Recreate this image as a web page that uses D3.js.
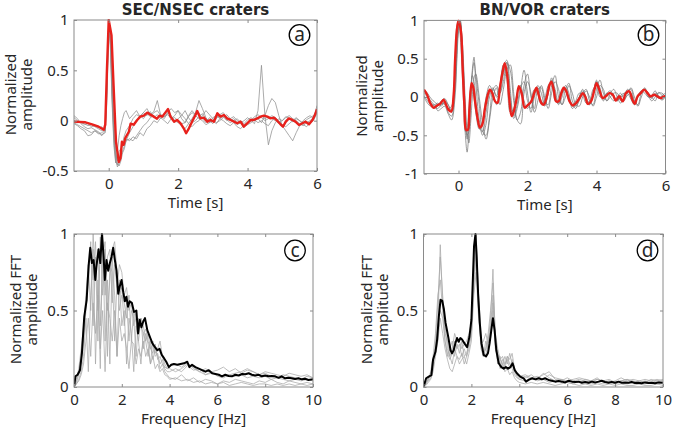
<!DOCTYPE html>
<html><head><meta charset="utf-8">
<script src="https://cdn.jsdelivr.net/npm/d3@7"></script>
<style>
body{margin:0;background:#fff}
svg{display:block}
text{font-family:"Noto Sans","Open Sans",sans-serif;fill:#262626}
</style>
</head><body>
<svg id="chart" width="675" height="433"></svg>
<script>
// ---------------- DATA ----------------
const titles = ["SEC/NSEC craters", "BN/VOR craters"];
const panelLetters = ["a", "b", "c", "d"];
const timeTicks = [0, 2, 4, 6];
const ampTicksA = [-0.5, 0, 0.5, 1];
const ampTicksB = [-1, -0.5, 0, 0.5, 1];
const freqTicks = [0, 2, 4, 6, 8, 10];
const fftTicks = [0, 0.5, 1];

// panel (a) mean trace (red)
const redAT = [-1,-0.67,-0.48,-0.29,-0.14,-0.1,-0.05,0,0.08,0.14,0.21,0.29,0.34,0.38,0.43,0.48,0.58,0.63,0.72,0.82,0.91,1.01,1.11,1.2,1.3,1.39,1.46,1.54,1.63,1.71,1.78,1.88,1.97,2.07,2.16,2.23,2.31,2.4,2.5,2.55,2.64,2.74,2.84,2.93,3.03,3.13,3.22,3.32,3.41,3.51,3.61,3.7,3.8,3.89,3.99,4.09,4.18,4.28,4.38,4.47,4.57,4.66,4.76,4.86,4.95,5.02,5.1,5.19,5.29,5.38,5.48,5.58,5.67,5.77,5.87,5.94,6.0];
const redAV = [-0.01,-0.016,-0.036,-0.06,-0.09,-0.04,0.52,1.0,0.85,0.35,-0.21,-0.41,-0.37,-0.21,-0.24,-0.17,-0.11,-0.03,-0.04,0.007,0.04,0.05,0.08,0.06,0.04,0.02,0.05,0.04,0.08,0.115,0.04,-0.01,0.007,-0.026,-0.076,-0.125,-0.076,-0.01,0.056,0.096,0.023,0.03,-0.01,0.007,-0.01,0.073,0.04,0.056,0.023,0.007,-0.01,-0.026,-0.01,-0.06,-0.026,0.007,0.007,0.023,0.04,0.05,0.04,0.023,0.03,-0.003,-0.036,-0.06,-0.01,0.023,0.007,-0.01,-0.043,-0.026,-0.01,-0.036,0.007,0.056,0.115];

// panel (b) mean trace (red)
const redBT = [-1,-0.91,-0.82,-0.72,-0.62,-0.53,-0.43,-0.37,-0.29,-0.21,-0.14,-0.1,-0.05,0,0.07,0.12,0.17,0.22,0.27,0.32,0.38,0.43,0.48,0.55,0.62,0.69,0.77,0.85,0.91,0.98,1.06,1.13,1.2,1.28,1.34,1.41,1.47,1.54,1.6,1.68,1.75,1.83,1.92,2.0,2.11,2.21,2.26,2.32,2.4,2.47,2.55,2.64,2.69,2.76,2.83,2.9,2.98,3.05,3.12,3.22,3.31,3.41,3.51,3.6,3.67,3.75,3.84,3.94,4.0,4.08,4.18,4.27,4.37,4.47,4.56,4.66,4.76,4.85,4.95,5.04,5.11,5.19,5.28,5.38,5.48,5.57,5.67,5.76,5.86,5.96,6.0];
const redBV = [0.096,0.03,-0.08,-0.14,-0.11,-0.09,-0.035,-0.09,-0.165,-0.19,0.03,0.47,0.86,1.0,0.86,0.38,-0.1,-0.43,-0.43,-0.14,0.18,0.12,-0.057,-0.27,-0.4,-0.36,-0.14,0.03,0.096,0.05,-0.057,-0.078,0.12,0.33,0.44,0.29,-0.013,-0.25,-0.19,-0.035,0.14,0.05,-0.14,-0.11,-0.057,0.074,0.12,0.03,-0.078,-0.1,-0.013,0.16,0.2,0.096,-0.057,-0.057,0.05,0.12,0.08,-0.057,-0.11,-0.078,-0.013,0.05,0.009,-0.09,-0.057,0.096,0.18,0.096,-0.013,0.009,0.05,0.03,-0.048,0.009,-0.057,0.05,0.074,-0.035,-0.09,0.009,0.05,0.096,0.05,0.009,0.03,0.009,-0.013,0.009,0.01];

// time grid of the individual (gray) traces, panels a and b
const tGray = [-1,-0.9,-0.8,-0.7,-0.6,-0.5,-0.4,-0.3,-0.2,-0.1,
  -0.05,0,0.05,0.1,0.15,0.2,0.25,0.3,0.35,0.4,0.45,0.5,
  0.6,0.7,0.8,0.9,1.0,1.1,1.2,1.3,1.4,1.5,
  1.6,1.7,1.8,1.9,2.0,2.1,2.2,2.3,2.4,2.5,
  2.6,2.7,2.8,2.9,3.0,3.1,3.2,3.3,3.4,3.5,
  3.6,3.7,3.8,3.9,4.0,4.1,4.2,4.3,4.4,4.5,
  4.6,4.7,4.8,4.9,5.0,5.1,5.2,5.3,5.4,5.5,
  5.6,5.7,5.8,5.9,6.0];

const grayA1 = [0.03,0,-0.02,-0.03,-0.05,-0.04,-0.06,-0.08,-0.1,-0.08,
  0.4,0.98,0.75,0.2,-0.2,-0.4,-0.44,-0.38,-0.3,-0.22,-0.15,-0.1,
  -0.05,0.02,0.06,0.04,0.08,0.05,0.09,0.03,0.06,0.02,
  0.07,0.1,0.05,0,-0.02,-0.05,-0.08,-0.03,0.02,0.08,
  0.2,0.12,0.03,-0.02,0,0.06,0.03,0.05,0.01,-0.02,
  0,-0.04,-0.02,-0.05,-0.02,0,0.02,0.03,0.05,0.02,
  0.04,0.02,0,-0.03,-0.06,-0.02,0.02,0,-0.02,-0.05,
  -0.03,-0.01,-0.03,0.02,0.1];
const grayA2 = [-0.02,-0.04,-0.06,-0.08,-0.1,-0.12,-0.1,-0.13,-0.12,-0.09,
  0.3,0.95,0.85,0.3,-0.1,-0.38,-0.46,-0.42,-0.35,-0.3,-0.25,-0.2,
  -0.18,-0.2,-0.15,-0.1,-0.05,-0.02,0.03,0.05,0.02,0.06,
  0.04,0.06,0.02,0.03,0,-0.03,-0.02,0.04,0.08,0.05,
  0.02,0,-0.04,-0.02,0.03,0.05,0.02,0,-0.03,-0.05,
  -0.02,-0.06,-0.08,-0.04,-0.02,0,-0.03,0.1,0.55,0.05,
  -0.24,-0.1,-0.02,0.02,0,0.03,0.05,0.02,0,-0.03,
  -0.05,-0.02,0,0.03,0.12];
const grayA3 = [0.05,0.02,-0.03,-0.06,-0.08,-0.07,-0.09,-0.11,-0.14,-0.12,
  0.2,0.9,0.95,0.45,0,-0.3,-0.43,-0.45,-0.4,-0.32,-0.28,-0.2,
  -0.12,-0.06,0,0.05,0.02,0.07,0.04,0.08,0.1,0.05,
  0.02,0.08,0.04,-0.02,0.02,0.05,0.1,0.03,-0.02,0,
  0.04,0.07,0.02,0,-0.03,0.02,0.06,0.08,0.03,0,
  0.02,-0.02,0,-0.03,0.01,0.03,0,0.02,-0.02,0.05,
  0.15,0.22,0.18,0.05,-0.05,-0.1,-0.15,-0.2,-0.12,-0.05,
  0,0.03,0.05,0.02,0.15];
const grayA4 = [-0.03,-0.05,-0.08,-0.1,-0.15,-0.14,-0.1,-0.12,-0.15,-0.1,
  0.35,1.0,0.8,0.25,-0.15,-0.35,-0.4,-0.3,-0.28,-0.25,-0.22,-0.18,
  -0.2,-0.16,-0.18,-0.12,-0.15,-0.08,-0.05,0,-0.02,0.03,
  0,-0.03,0.02,0.05,0.1,0.06,0.02,-0.03,-0.06,-0.02,
  0,0.05,0.1,0.06,0.02,-0.02,0,0.03,0.06,0.02,
  0.04,0,-0.03,-0.06,-0.04,-0.02,0.01,-0.02,0,-0.03,
  -0.05,0,0.03,0,-0.04,-0.06,-0.03,0,0.03,0,
  -0.04,-0.06,-0.02,0,0.08];
const grayA5 = [0,-0.02,-0.01,-0.04,-0.03,-0.06,-0.05,-0.07,-0.06,-0.1,
  0.45,0.97,0.7,0.15,-0.25,-0.42,-0.3,-0.15,-0.05,0.02,0.08,0.1,
  0.02,0.06,0.1,0.04,0.08,0.12,0.06,0.09,0.2,0.05,
  0.04,0.08,0.12,0.08,0.1,0.02,-0.02,0.05,0.1,0.06,
  0.08,0.02,-0.02,0.03,0,-0.03,0.02,0.04,0,0.02,
  -0.01,0.02,-0.02,0,0.03,0,0.04,0.06,0.03,0,
  0.02,0.05,0.03,-0.02,0,0.04,0.02,-0.01,0.02,0,
  -0.02,0.01,0.03,0.05,0.1];

const grayB1 = [0.05,0,-0.05,-0.1,-0.08,-0.12,-0.05,-0.1,-0.2,0.3,
  0.75,0.98,0.95,0.6,0.1,-0.5,-0.72,-0.45,0,0.35,0.52,0.2,
  -0.3,-0.5,-0.35,0,0.1,0.02,0.15,0.4,0.48,0.1,
  -0.28,-0.15,0.1,0.35,0.05,-0.2,0,0.15,0.05,-0.12,
  0.05,0.25,0.05,-0.1,0,0.15,0.05,-0.15,-0.1,0,
  0.08,0,-0.1,0.02,0.2,0.12,-0.03,0.05,0.08,0.02,
  -0.05,0,0.03,0.1,0,-0.1,0,0.05,0.1,0.05,
  -0.02,0.05,0.02,-0.03,0.02];
const grayB2 = [0.08,0.02,-0.08,-0.12,-0.15,-0.1,-0.08,-0.2,-0.25,0.2,
  0.6,0.9,1.0,0.75,0.3,-0.2,-0.5,-0.45,-0.1,0.3,0.45,0.3,
  -0.1,-0.45,-0.5,-0.25,0.1,0.15,0.05,0.2,0.45,0.35,
  -0.05,-0.3,-0.2,0.15,0.3,0,-0.15,0.1,0.12,-0.05,
  -0.1,0.15,0.28,0,-0.1,0.1,0.18,-0.05,-0.12,-0.05,
  0.05,0.1,-0.05,-0.1,0.1,0.22,0.05,-0.05,0.05,0.1,
  0,-0.08,0,0.08,0.1,-0.05,-0.1,0.05,0.12,0.02,
  -0.05,0,0.06,0.02,-0.02];
const grayB3 = [0.1,0.05,-0.02,-0.06,-0.1,-0.05,-0.02,-0.1,-0.18,0.1,
  0.55,0.92,1.0,0.7,0.2,-0.3,-0.55,-0.35,0.05,0.28,0.2,-0.05,
  -0.4,-0.45,-0.2,0.05,0.12,0,0.05,0.3,0.45,0,
  -0.25,-0.1,0.12,0.2,-0.05,-0.15,0.05,0.12,-0.05,-0.1,
  0.05,0.22,0.1,-0.08,0.05,0.12,0,-0.1,-0.15,0,
  0.1,-0.02,-0.1,0.05,0.22,0.05,-0.05,0.02,0.06,0,
  -0.05,0.02,0.05,0.05,-0.03,-0.1,0.02,0.08,0.05,0,
  0.02,0.08,0,-0.04,0];
const grayB4 = [0.02,-0.05,-0.1,-0.15,-0.12,-0.08,-0.1,-0.15,-0.12,0.5,
  0.92,1.0,0.8,0.4,-0.1,-0.45,-0.4,-0.15,0.1,0.15,0,-0.2,
  -0.42,-0.3,0,0.15,0.05,-0.1,0.15,0.42,0.25,-0.2,
  -0.15,0.05,0.15,-0.05,-0.15,-0.05,0.1,0.05,-0.1,-0.02,
  0.15,0.2,-0.05,-0.08,0.1,0.08,-0.05,-0.12,-0.05,0.05,
  0.02,-0.08,-0.05,0.1,0.15,0,0,0.05,0,-0.05,
  0,0.05,-0.02,0.02,0.05,-0.05,0,0.08,0.1,0,
  0,0.03,-0.02,0.02,0.05];
const grayB5 = [0,-0.08,-0.12,-0.1,-0.18,-0.15,-0.12,-0.22,-0.3,0,
  0.45,0.85,0.97,0.8,0.4,-0.1,-0.45,-0.6,-0.35,0,0.25,0.3,
  0,-0.35,-0.55,-0.3,0,0.12,-0.1,0.1,0.35,0.42,
  0.05,-0.3,-0.35,0.05,0.2,0.05,-0.2,-0.05,0.15,0,
  -0.15,0.05,0.2,0.1,-0.1,0,0.15,0.05,-0.1,-0.12,
  0,0.08,0,-0.12,0,0.15,0.1,-0.05,0,0.05,
  0.05,-0.05,-0.05,0.05,0.12,0,-0.12,0,0.1,0.05,
  0,-0.05,0.05,0.05,0];

// panel (c) mean spectrum (black)
const blkCF = [0,0.06,0.15,0.25,0.33,0.43,0.53,0.61,0.68,0.75,0.82,0.89,0.94,1.03,1.1,1.17,1.24,1.29,1.36,1.43,1.5,1.57,1.64,1.71,1.78,1.85,1.92,1.99,2.06,2.13,2.19,2.26,2.33,2.42,2.51,2.61,2.68,2.75,2.82,2.9,2.97,3.07,3.17,3.28,3.39,3.49,3.58,3.67,3.76,3.86,3.97,4.07,4.18,4.32,4.46,4.6,4.74,4.83,4.94,5.08,5.22,5.36,5.5,5.64,5.78,5.92,6.06,6.19,6.33,6.47,6.61,6.75,6.89,7.03,7.17,7.31,7.44,7.58,7.72,7.86,8.0,8.14,8.28,8.42,8.56,8.69,8.83,8.97,9.11,9.25,9.39,9.53,9.67,9.81,10];
const blkCV = [0,0.07,0.08,0.11,0.22,0.46,0.57,0.79,0.91,0.81,0.83,0.7,0.79,0.9,0.81,1.0,0.85,0.7,0.83,0.76,0.81,0.85,0.91,0.83,0.76,0.61,0.66,0.7,0.62,0.56,0.59,0.525,0.56,0.55,0.49,0.5,0.35,0.44,0.39,0.43,0.45,0.37,0.33,0.285,0.26,0.24,0.25,0.21,0.19,0.165,0.13,0.145,0.15,0.145,0.15,0.155,0.165,0.13,0.145,0.13,0.12,0.11,0.1,0.11,0.09,0.085,0.08,0.07,0.08,0.072,0.07,0.08,0.075,0.085,0.083,0.09,0.08,0.075,0.08,0.07,0.075,0.07,0.072,0.07,0.06,0.07,0.057,0.06,0.057,0.052,0.057,0.05,0.054,0.046,0.05];

// panel (d) mean spectrum (black)
const blkDF = [0,0.11,0.22,0.33,0.4,0.5,0.57,0.64,0.71,0.78,0.85,0.92,1.03,1.13,1.19,1.26,1.33,1.4,1.47,1.54,1.61,1.71,1.82,1.92,2.0,2.06,2.11,2.17,2.22,2.28,2.35,2.42,2.51,2.61,2.69,2.76,2.83,2.9,2.97,3.04,3.14,3.25,3.35,3.44,3.53,3.63,3.72,3.81,3.9,4.04,4.18,4.28,4.39,4.53,4.67,4.81,4.94,5.08,5.22,5.36,5.5,5.64,5.78,5.92,6.06,6.19,6.33,6.47,6.61,6.75,6.89,7.03,7.17,7.31,7.44,7.58,7.72,7.86,8.0,8.14,8.28,8.42,8.56,8.69,8.83,8.97,9.11,9.25,9.39,9.53,9.67,9.81,10];
const blkDV = [0,0.057,0.068,0.078,0.18,0.23,0.31,0.46,0.57,0.565,0.51,0.42,0.33,0.24,0.22,0.24,0.285,0.32,0.296,0.32,0.31,0.285,0.26,0.33,0.44,0.7,0.92,1.0,0.85,0.61,0.42,0.285,0.21,0.2,0.22,0.285,0.37,0.45,0.37,0.24,0.155,0.13,0.12,0.13,0.12,0.13,0.155,0.11,0.09,0.068,0.057,0.035,0.046,0.057,0.05,0.057,0.05,0.057,0.046,0.041,0.035,0.039,0.035,0.03,0.041,0.035,0.033,0.035,0.028,0.033,0.028,0.035,0.03,0.035,0.041,0.033,0.028,0.033,0.028,0.035,0.028,0.03,0.028,0.033,0.026,0.028,0.024,0.03,0.026,0.028,0.024,0.03,0.028];

// frequency grid of the individual (gray) spectra, panels c and d
const fGray = [0,0.1,0.2,0.3,0.4,0.5,0.6,0.7,0.8,0.9,
  1.0,1.1,1.2,1.3,1.4,1.5,1.6,1.7,1.8,1.9,
  2.0,2.1,2.2,2.3,2.4,2.5,2.6,2.7,2.8,2.9,
  3.0,3.1,3.2,3.3,3.4,3.5,3.6,3.7,3.8,3.9,
  4.0,
  4.25,4.5,4.75,5.0,5.25,5.5,5.75,6.0,6.25,6.5,6.75,7.0,
  7.25,7.5,7.75,8.0,8.25,8.5,8.75,9.0,9.25,9.5,9.75,10.0];

const grayC1 = [0,0.03,0.08,0.15,0.3,0.5,0.7,0.95,0.4,0.85,
  0.3,0.98,0.6,0.9,0.2,0.8,0.75,0.3,0.7,0.6,
  0.65,0.4,0.55,0.3,0.5,0.45,0.2,0.45,0.4,0.35,
  0.38,0.3,0.25,0.28,0.2,0.22,0.15,0.18,0.12,0.1,
  0.1,
  0.12,0.1,0.14,0.11,0.12,0.08,0.1,0.07,0.06,0.08,0.09,0.1,
  0.12,0.1,0.08,0.09,0.07,0.06,0.08,0.07,0.06,0.05,0.07,0.06];
const grayC2 = [0,0.02,0.05,0.1,0.2,0.45,0.1,0.6,0.9,0.15,
  0.7,0.12,1.0,0.3,0.7,0.15,0.85,0.6,0.2,0.7,
  0.4,0.5,0.15,0.45,0.35,0.1,0.4,0.3,0.15,0.35,
  0.3,0.2,0.3,0.18,0.25,0.2,0.12,0.15,0.1,0.08,
  0.06,
  0.05,0.08,0.04,0.06,0.03,0.05,0.04,0.02,0.04,0.03,0.05,0.04,
  0.03,0.02,0.04,0.03,0.05,0.03,0.02,0.04,0.03,0.02,0.03,0.02];
const grayC3 = [0,0.05,0.12,0.25,0.4,0.6,0.8,0.5,1.0,0.7,
  0.9,0.4,0.85,0.95,0.5,0.7,0.9,0.95,0.75,0.5,
  0.6,0.55,0.45,0.6,0.3,0.5,0.42,0.3,0.45,0.25,
  0.35,0.28,0.15,0.3,0.22,0.25,0.3,0.2,0.15,0.12,
  0.14,
  0.15,0.13,0.16,0.12,0.1,0.12,0.1,0.11,0.13,0.1,0.12,0.09,
  0.11,0.1,0.08,0.1,0.09,0.08,0.07,0.09,0.08,0.07,0.08,0.06];
const grayC4 = [0,0.02,0.04,0.08,0.15,0.3,0.45,0.2,0.55,0.35,
  0.6,0.25,0.5,0.1,0.55,0.45,0.3,0.5,0.2,0.45,
  0.3,0.35,0.25,0.12,0.3,0.28,0.15,0.25,0.2,0.3,
  0.2,0.25,0.15,0.2,0.12,0.15,0.1,0.12,0.08,0.07,
  0.05,
  0.06,0.04,0.05,0.03,0.04,0.02,0.03,0.02,0.03,0.01,0.02,0.03,
  0.02,0.01,0.02,0.02,0.01,0.02,0.01,0.02,0.01,0.02,0.01,0.02];
const grayC5 = [0,0.04,0.1,0.2,0.35,0.55,0.75,0.9,0.7,0.95,
  0.5,0.9,0.95,0.6,0.85,0.9,0.55,0.8,0.65,0.8,
  0.75,0.6,0.65,0.5,0.55,0.4,0.5,0.35,0.45,0.4,
  0.3,0.35,0.25,0.22,0.28,0.18,0.2,0.15,0.13,0.12,
  0.12,
  0.1,0.12,0.15,0.13,0.1,0.08,0.09,0.08,0.07,0.08,0.07,0.08,
  0.06,0.07,0.06,0.07,0.05,0.06,0.05,0.04,0.05,0.04,0.05,0.04];

const grayD1 = [0,0.03,0.05,0.08,0.15,0.25,0.4,0.93,0.55,0.35,
  0.3,0.2,0.15,0.25,0.2,0.18,0.22,0.15,0.2,0.3,
  0.4,0.75,1.0,0.55,0.3,0.25,0.2,0.3,0.45,0.77,
  0.3,0.2,0.15,0.18,0.12,0.2,0.15,0.12,0.08,0.06,
  0.05,
  0.06,0.08,0.05,0.09,0.06,0.04,0.05,0.03,0.04,0.03,0.05,0.04,
  0.06,0.03,0.04,0.03,0.04,0.05,0.03,0.04,0.05,0.04,0.05,0.04];
const grayD2 = [0,0.02,0.04,0.06,0.12,0.3,0.55,0.85,0.6,0.4,
  0.25,0.2,0.25,0.35,0.3,0.3,0.25,0.28,0.3,0.35,
  0.42,0.8,0.95,0.6,0.35,0.22,0.25,0.35,0.5,0.68,
  0.35,0.25,0.18,0.15,0.2,0.15,0.22,0.15,0.1,0.08,
  0.06,
  0.07,0.05,0.06,0.08,0.1,0.05,0.04,0.06,0.04,0.05,0.04,0.03,
  0.05,0.04,0.03,0.04,0.06,0.04,0.05,0.04,0.03,0.05,0.04,0.05];
const grayD3 = [0,0.01,0.03,0.05,0.1,0.2,0.3,0.45,0.35,0.25,
  0.18,0.12,0.1,0.15,0.2,0.15,0.18,0.2,0.15,0.22,
  0.3,0.6,0.75,0.45,0.3,0.2,0.25,0.3,0.32,0.5,
  0.25,0.2,0.12,0.15,0.1,0.12,0.08,0.1,0.06,0.04,
  0.03,
  0.02,0.03,0.02,0.03,0.02,0.01,0.02,0.03,0.02,0.01,0.02,0.01,
  0.02,0.01,0.02,0.01,0.02,0.01,0.01,0.02,0.01,0.01,0.02,0.01];
const grayD4 = [0,0.02,0.05,0.1,0.2,0.35,0.6,0.7,0.5,0.3,
  0.22,0.18,0.22,0.3,0.25,0.28,0.2,0.25,0.2,0.25,
  0.35,0.7,0.9,0.5,0.28,0.3,0.35,0.28,0.4,0.6,
  0.28,0.15,0.2,0.12,0.15,0.18,0.12,0.18,0.1,0.07,
  0.05,
  0.04,0.06,0.04,0.05,0.03,0.04,0.05,0.03,0.02,0.04,0.03,0.02,
  0.03,0.02,0.04,0.02,0.03,0.02,0.03,0.02,0.02,0.03,0.02,0.03];
const grayD5 = [0,0.03,0.06,0.08,0.15,0.25,0.4,0.5,0.45,0.3,
  0.2,0.25,0.3,0.2,0.28,0.22,0.3,0.2,0.22,0.28,
  0.35,0.65,0.85,0.5,0.25,0.2,0.3,0.25,0.35,0.55,
  0.3,0.22,0.18,0.2,0.15,0.2,0.18,0.22,0.12,0.08,
  0.07,
  0.08,0.06,0.07,0.05,0.08,0.06,0.05,0.04,0.05,0.06,0.05,0.04,
  0.05,0.04,0.05,0.03,0.04,0.05,0.04,0.03,0.04,0.03,0.04,0.03];

// ---------------- DRAWING ----------------
const svg = d3.select("#chart");
const AXIS = "#8a8a8a";
const FS = 15;
const FONT = '"Noto Sans","Open Sans",sans-serif';

function zip(xs, ys) { return xs.map((x, i) => [x, ys[i]]); }

function drawPanel(cfg, idx) {
  const x = d3.scaleLinear().domain(cfg.xdom).range([cfg.x0, cfg.x1]);
  const y = d3.scaleLinear().domain(cfg.ydom).range([cfg.y1, cfg.y0]);
  const g = svg.append("g");
  const cid = "clip" + idx;
  svg.append("defs").append("clipPath").attr("id", cid)
    .append("rect").attr("x", cfg.x0).attr("y", cfg.y0 - 1)
    .attr("width", cfg.x1 - cfg.x0).attr("height", cfg.y1 - cfg.y0 + 1);

  const line = d3.line().x(d => x(d[0])).y(d => y(d[1])).curve(cfg.curve);
  const plot = g.append("g").attr("clip-path", `url(#${cid})`);
  cfg.grays.forEach(arr => {
    plot.append("path").datum(zip(cfg.grayX, arr))
      .attr("fill", "none").attr("stroke", cfg.grayColor)
      .attr("stroke-width", 0.75).attr("d", line);
  });
  plot.append("path").datum(zip(cfg.mainX, cfg.mainY))
    .attr("fill", "none").attr("stroke", cfg.mainColor)
    .attr("stroke-width", cfg.mainWidth).attr("stroke-linejoin", "round")
    .attr("d", line);

  const fmt = d => String(d);
  const styleAxis = sel => {
    sel.select(".domain").remove();
    sel.selectAll(".tick line").attr("stroke", AXIS);
    sel.selectAll(".tick text").attr("font-size", FS).attr("fill", "#262626")
      .style("font-family", FONT);
  };
  g.append("g").attr("transform", `translate(0,${cfg.y1})`)
    .call(d3.axisBottom(x).tickValues(cfg.xticks).tickFormat(fmt).tickSize(-3).tickPadding(7))
    .call(styleAxis);
  g.append("g").attr("transform", `translate(0,${cfg.y0})`)
    .call(d3.axisTop(x).tickValues(cfg.xticks).tickFormat("").tickSize(-3))
    .call(styleAxis);
  g.append("g").attr("transform", `translate(${cfg.x0},0)`)
    .call(d3.axisLeft(y).tickValues(cfg.yticks).tickFormat(fmt).tickSize(-3).tickPadding(5.5))
    .call(styleAxis);
  g.append("g").attr("transform", `translate(${cfg.x1},0)`)
    .call(d3.axisRight(y).tickValues(cfg.yticks).tickFormat("").tickSize(-3))
    .call(styleAxis);

  g.append("rect").attr("x", cfg.x0).attr("y", cfg.y0)
    .attr("width", cfg.x1 - cfg.x0).attr("height", cfg.y1 - cfg.y0)
    .attr("fill", "none").attr("stroke", AXIS).attr("stroke-width", 1);

  // axis labels
  const xc = (cfg.x0 + cfg.x1) / 2;
  g.append("text").attr("x", xc).attr("y", cfg.xlabY).attr("text-anchor", "middle")
    .attr("font-size", FS).text(cfg.xlabel);
  const yc = (cfg.y0 + cfg.y1) / 2 - 1;
  cfg.ylabel.forEach((t, i) => {
    g.append("text")
      .attr("transform", `translate(${cfg.ylabX + i * 16},${yc}) rotate(-90)`)
      .attr("text-anchor", "middle").attr("font-size", FS).text(t);
  });

  // circled panel letter
  g.append("circle").attr("cx", cfg.lx).attr("cy", cfg.ly).attr("r", 10.3)
    .attr("fill", "#fff").attr("stroke", "#000").attr("stroke-width", 1.3);
  g.append("text").attr("x", cfg.lx).attr("y", cfg.ly + 6).attr("text-anchor", "middle")
    .attr("font-size", 19).attr("fill", "#000").text(panelLetters[idx]);

  if (cfg.title) {
    g.append("text").attr("x", xc).attr("y", 15).attr("text-anchor", "middle")
      .attr("font-size", 15).attr("font-weight", "bold").attr("fill", "#000")
      .style("font-family", '"DejaVu Sans",Verdana,sans-serif').text(cfg.title);
  }
}

const panels = [
  { x0: 74, x1: 317, y0: 20, y1: 171, xdom: [-1, 6], ydom: [-0.5, 1],
    xticks: timeTicks, yticks: ampTicksA, grayX: tGray,
    grays: [grayA1, grayA2, grayA3, grayA4, grayA5], grayColor: "#8f8f8f",
    mainX: redAT, mainY: redAV, mainColor: "#e8211c", mainWidth: 2.4,
    curve: d3.curveLinear, xlabel: "Time [s]", xlabY: 208,
    ylabel: ["Normalized", "amplitude"], ylabX: 15.5,
    lx: 299.5, ly: 35, title: titles[0] },
  { x0: 424, x1: 665.5, y0: 20.4, y1: 173.6, xdom: [-1, 6], ydom: [-1, 1],
    xticks: timeTicks, yticks: ampTicksB, grayX: tGray,
    grays: [grayB1, grayB2, grayB3, grayB4, grayB5], grayColor: "#7a7a7a",
    mainX: redBT, mainY: redBV, mainColor: "#e8211c", mainWidth: 2.4,
    curve: d3.curveCatmullRom, xlabel: "Time [s]", xlabY: 209.5,
    ylabel: ["Normalized", "amplitude"], ylabX: 366.5,
    lx: 648.5, ly: 35, title: titles[1] },
  { x0: 74, x1: 313, y0: 234, y1: 387, xdom: [0, 10], ydom: [0, 1],
    xticks: freqTicks, yticks: fftTicks, grayX: fGray,
    grays: [grayC1, grayC2, grayC3, grayC4, grayC5], grayColor: "#a8a8a8",
    mainX: blkCF, mainY: blkCV, mainColor: "#000", mainWidth: 2,
    curve: d3.curveLinear, xlabel: "Frequency [Hz]", xlabY: 423.5,
    ylabel: ["Normalized FFT", "amplitude"], ylabX: 20.5,
    lx: 295, ly: 250.5 },
  { x0: 423.5, x1: 663, y0: 234, y1: 387, xdom: [0, 10], ydom: [0, 1],
    xticks: freqTicks, yticks: fftTicks, grayX: fGray,
    grays: [grayD1, grayD2, grayD3, grayD4, grayD5], grayColor: "#a8a8a8",
    mainX: blkDF, mainY: blkDV, mainColor: "#000", mainWidth: 2,
    curve: d3.curveLinear, xlabel: "Frequency [Hz]", xlabY: 423.5,
    ylabel: ["Normalized FFT", "amplitude"], ylabX: 371.5,
    lx: 647.5, ly: 250.5 }
];
panels.forEach(drawPanel);
</script>
</body></html>
